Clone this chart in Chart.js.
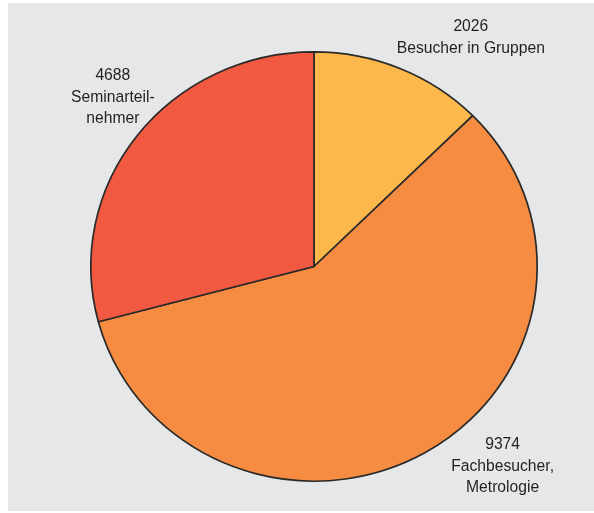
<!DOCTYPE html>
<html>
<head>
<meta charset="utf-8">
<script src="https://cdn.jsdelivr.net/npm/chart.js@4/dist/chart.umd.min.js"></script>
<style>
  html, body { margin: 0; padding: 0; background: #ffffff; }
  #wrap { width: 594px; height: 513px; position: relative; }
</style>
</head>
<body>
<div id="wrap"><canvas id="c" width="594" height="513"></canvas></div>
<script>
const categories = ["Besucher in Gruppen", "Fachbesucher, Metrologie", "Seminarteilnehmer"];
const values = [2026, 9374, 4688];
const labelLines = [
  ["2026", "Besucher in Gruppen"],
  ["9374", "Fachbesucher,", "Metrologie"],
  ["4688", "Seminarteil-", "nehmer"]
];
const colors = ["#FDB84B", "#F58C42", "#F15A40"];

const bgPlugin = {
  id: 'bgPanel',
  beforeDraw(chart) {
    const ctx = chart.ctx;
    ctx.save();
    ctx.fillStyle = '#ffffff';
    ctx.fillRect(0, 0, chart.width, chart.height);
    ctx.fillStyle = '#E6E7E9';
    ctx.fillRect(8, 3, chart.width - 8, chart.height - 5);
    ctx.restore();
  }
};

// slight vertical flattening of the pie, as in the reference
const squish = 0.962;
const squishPlugin = {
  id: 'squish',
  beforeDatasetsDraw(chart) {
    const arc = chart.getDatasetMeta(0).data[0];
    const ctx = chart.ctx;
    ctx.save();
    ctx.translate(arc.x, arc.y);
    ctx.scale(1, squish);
    ctx.translate(-arc.x, -arc.y);
  },
  afterDatasetsDraw(chart) {
    chart.ctx.restore();
  }
};

// label anchor: angle (deg, clockwise from top) and distance from centre
const labelPlacement = [
  { angle: 34.4, dist: 277.6 },
  { angle: 136.6, dist: 274.5 },
  { angle: -49.9, dist: 263 }
];

const labelPlugin = {
  id: 'sliceLabels',
  afterDraw(chart) {
    const ctx = chart.ctx;
    const meta = chart.getDatasetMeta(0);
    ctx.save();
    ctx.font = '16.5px "Liberation Sans", Arial, sans-serif';
    ctx.fillStyle = '#231f20';
    ctx.textAlign = 'center';
    ctx.textBaseline = 'middle';
    meta.data.forEach((arc, i) => {
      const p = labelPlacement[i];
      const a = p.angle * Math.PI / 180;
      const cx = arc.x + Math.sin(a) * p.dist;
      const cy = arc.y - Math.cos(a) * p.dist;
      const lines = labelLines[i];
      const lh = 21.5;
      const y0 = cy - (lines.length - 1) * lh / 2;
      lines.forEach((t, k) => {
        ctx.save();
        ctx.translate(cx, y0 + k * lh);
        ctx.scale(0.95, 1.04);
        ctx.fillText(t, 0, 0);
        ctx.restore();
      });
    });
    ctx.restore();
  }
};

new Chart(document.getElementById('c'), {
  type: 'pie',
  data: {
    labels: categories,
    datasets: [{
      data: values,
      backgroundColor: colors,
      borderColor: '#2a2a2a',
      borderWidth: 1.7,
      hoverOffset: 0
    }]
  },
  options: {
    responsive: false,
    animation: false,
    events: [],
    layout: { padding: { left: 90, right: 56, top: 42.5, bottom: 22.5 } },
    plugins: {
      legend: { display: false },
      tooltip: { enabled: false },
      title: { display: false }
    }
  },
  plugins: [bgPlugin, squishPlugin, labelPlugin]
});
</script>
</body>
</html>
